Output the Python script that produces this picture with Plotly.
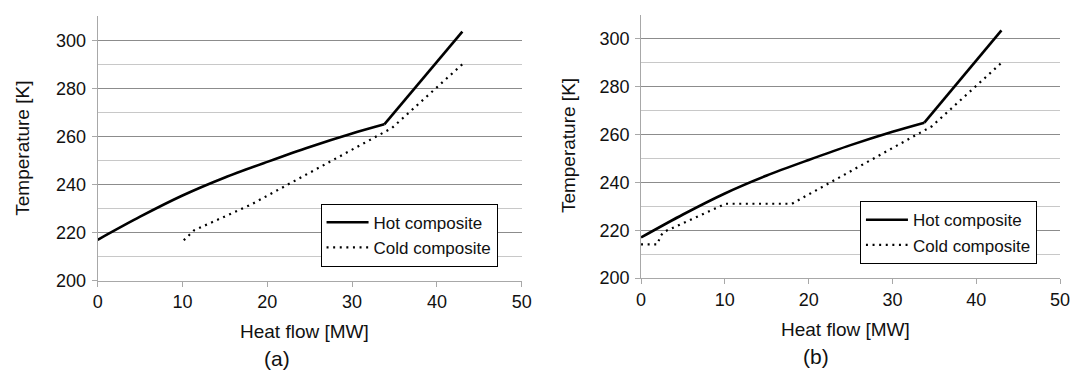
import plotly.graph_objects as go

# ---- data ----
hot_x = [0, 5, 10, 15, 20, 25, 30, 33.8, 43]
hot_y = [217, 226.6, 235.4, 242.9, 249.4, 255.6, 261.2, 265, 303.6]

cold_a_x = [10.15, 11.35, 18, 34.7, 43]
cold_a_y = [216.8, 220.9, 231.5, 263.5, 290]

cold_b_x = [0, 1.96, 2.3, 2.7, 10.1, 18.0, 34.7, 43]
cold_b_y = [214.1, 214.1, 217.5, 219.3, 231.1, 231.1, 263.5, 290]

x_ticks = [0, 10, 20, 30, 40, 50]
y_ticks = [200, 220, 240, 260, 280, 300]

KINK = 7  # index of the hot-curve kink (smooth part before, straight part after)

FONT = "Liberation Sans, Arial, sans-serif"
TXT = "#111111"
MAJOR = "#8c8c8c"
MINOR = "#c8c8c8"
AXL = "#a8a8a8"

W, H = 1079, 378

fig = go.Figure()

hot_line = dict(color="black", width=2.6)
cold_line = dict(color="black", width=2.2, dash="2px,4.6px")


def add_panel(xa, ya, leg, cx, cy):
    fig.add_trace(go.Scatter(x=hot_x[:KINK + 1], y=hot_y[:KINK + 1], mode="lines",
                             name="Hot composite", line=dict(shape="spline", smoothing=0.8, **hot_line),
                             xaxis=xa, yaxis=ya, legend=leg, legendgroup=leg + "hot"))
    fig.add_trace(go.Scatter(x=hot_x[KINK:], y=hot_y[KINK:], mode="lines",
                             name="Hot composite", line=hot_line, showlegend=False,
                             xaxis=xa, yaxis=ya, legend=leg, legendgroup=leg + "hot"))
    fig.add_trace(go.Scatter(x=cx, y=cy, mode="lines", name="Cold composite",
                             line=cold_line, xaxis=xa, yaxis=ya, legend=leg))


add_panel("x", "y", "legend", cold_a_x, cold_a_y)
add_panel("x2", "y2", "legend2", cold_b_x, cold_b_y)


def xax(domain, anchor):
    return dict(domain=domain, anchor=anchor, range=[0, 50], tickvals=x_ticks,
                showgrid=False, zeroline=False, showline=True, linecolor=AXL,
                linewidth=1, ticks="outside", ticklen=5, tickcolor=AXL,
                tickfont=dict(family=FONT, size=18, color=TXT),
                ticklabelstandoff=0, fixedrange=True)


def yax(domain, anchor):
    return dict(domain=domain, anchor=anchor, range=[200, 310], tickvals=y_ticks,
                showgrid=True, gridcolor=MAJOR, gridwidth=1, zeroline=False,
                showline=True, linecolor=AXL, linewidth=1, ticks="outside",
                ticklen=5, tickcolor=AXL,
                tickfont=dict(family=FONT, size=18, color=TXT),
                ticklabelstandoff=2,
                minor=dict(dtick=10, tick0=200, showgrid=True, gridcolor=MINOR,
                           gridwidth=1, ticks=""),
                fixedrange=True)


def px_x(p):
    return p / W


def px_y(p):
    return 1 - p / H


legend_common = dict(bgcolor="white", bordercolor="black", borderwidth=1,
                     font=dict(family=FONT, size=17, color=TXT),
                     xanchor="left", yanchor="top", itemwidth=42,
                     tracegroupgap=0)

ann_font = dict(family=FONT, size=19, color=TXT)

fig.update_layout(
    width=W, height=H,
    margin=dict(l=0, r=0, t=0, b=0),
    paper_bgcolor="white", plot_bgcolor="white",
    xaxis=xax([px_x(94), px_x(524)], "y"),
    yaxis=yax([px_y(288.3), px_y(16.6)], "x"),
    xaxis2=xax([px_x(645), px_x(1070)], "y2"),
    yaxis2=yax([px_y(285.7), px_y(15.4)], "x2"),
    legend=dict(x=px_x(320), y=px_y(209.3), **legend_common),
    legend2=dict(x=px_x(867), y=px_y(206.7), **legend_common),
    showlegend=True,
    annotations=[
        dict(text="Temperature [K]", x=px_x(18), y=px_y(152), xref="paper", yref="paper",
             textangle=-90, showarrow=False, font=ann_font,
             xanchor="center", yanchor="middle"),
        dict(text="Temperature [K]", x=px_x(571), y=px_y(150), xref="paper", yref="paper",
             textangle=-90, showarrow=False, font=ann_font,
             xanchor="center", yanchor="middle"),
        dict(text="Heat flow [MW]", x=px_x(304), y=px_y(340.5), xref="paper", yref="paper",
             showarrow=False, font=ann_font,
             xanchor="center", yanchor="middle"),
        dict(text="Heat flow [MW]", x=px_x(852.5), y=px_y(338), xref="paper", yref="paper",
             showarrow=False, font=ann_font,
             xanchor="center", yanchor="middle"),
        dict(text="(a)", x=px_x(276), y=px_y(368), xref="paper", yref="paper",
             showarrow=False, font=dict(family=FONT, size=21, color=TXT),
             xanchor="center", yanchor="middle"),
        dict(text="(b)", x=px_x(822), y=px_y(366), xref="paper", yref="paper",
             showarrow=False, font=dict(family=FONT, size=21, color=TXT),
             xanchor="center", yanchor="middle"),
    ],
)

fig.write_html("out.html", config={"displayModeBar": False},
               post_script="document.body.style.margin='0';document.body.style.overflow='hidden';")
